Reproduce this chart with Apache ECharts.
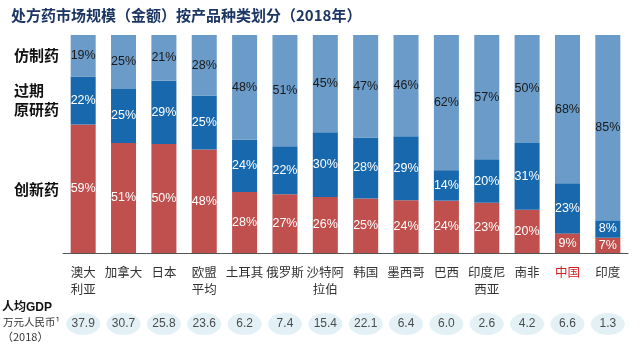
<!DOCTYPE html>
<html><head><meta charset="utf-8">
<script src="https://cdn.jsdelivr.net/npm/echarts@6/dist/echarts.min.js"></script>
<style>html,body{margin:0;padding:0;background:#fff}#c{width:640px;height:355px}</style>
</head><body><div id="c"></div>
<script>
const categories = ['澳大\n利亚','加拿大','日本','欧盟\n平均','土耳其','俄罗斯','沙特阿\n拉伯','韩国','墨西哥','巴西','印度尼\n西亚','南非','中国','印度'];
const innovative = [59,51,50,48,28,27,26,25,24,24,23,20,9,7];
const offPatent  = [22,25,29,25,24,22,30,28,29,14,20,31,23,8];
const generic    = [19,25,21,28,48,51,45,47,46,62,57,50,68,85];
const gdp = ['37.9','30.7','25.8','23.6','6.2','7.4','15.4','22.1','6.4','6.0','2.6','4.2','6.6','1.3'];
const seriesNames = ['创新药','过期原研药','仿制药'];

const totals = innovative.map((v,i)=>v+offPatent[i]+generic[i]);
const norm = arr => arr.map((v,i)=>({value: v/totals[i]*100, raw: v}));

const chart = echarts.init(document.getElementById('c'));
const font = 'Arial, "Liberation Sans", "Noto Sans CJK SC", sans-serif';
const cjk = '"Noto Sans CJK SC", sans-serif';
function seg(name, data, color, labelColor){
  return {
    name, type:'bar', stack:'s', data: norm(data), barCategoryGap:'38%',
    itemStyle:{color},
    label:{show:true, position:'inside', color:labelColor, fontSize:12.5, fontFamily:font,
      formatter: p => p.data.raw + '%'}
  };
}
chart.setOption({
  animation:false,
  title:{text:'处方药市场规模（金额）按产品种类划分（2018年）', left:6, top:3,
    textStyle:{fontSize:15, fontWeight:'bold', color:'#1c3664', fontFamily:cjk}},
  grid:[{left:63, right:12, top:35, bottom:102},{left:63, right:12, top:311, height:26}],
  xAxis:[{type:'category', data:categories, gridIndex:0,
    axisLine:{lineStyle:{color:'#555'}}, axisTick:{length:4, lineStyle:{color:'#555'}},
    axisLabel:{interval:0, margin:11, fontSize:12.5, lineHeight:17, fontFamily:cjk, color:'#333',
      formatter: v => v==='中国' ? '{red|'+v+'}' : v,
      rich:{red:{color:'#d42020', fontSize:12.5, fontFamily:cjk}}}},
    {type:'category', data:categories, gridIndex:1, show:false}],
  yAxis:[{type:'value', min:0, max:100, show:false, gridIndex:0},
    {type:'value', min:-1, max:1, show:false, gridIndex:1}],
  series:[
    seg(seriesNames[0], innovative, '#c0504d', '#fff'),
    seg(seriesNames[1], offPatent, '#1868ad', '#fff'),
    seg(seriesNames[2], generic, '#6b9bc8', '#1a1a1a'),
    {type:'scatter', xAxisIndex:1, yAxisIndex:1, symbol:'circle', symbolSize:[34,22],
      itemStyle:{color:'#dcedf5'},
      data: gdp.map((g,i)=>({value:[i,0], name:g})),
      label:{show:true, position:'inside', formatter:p=>p.name, color:'#222', fontSize:12, fontFamily:font}}
  ],
  graphic:[
    {type:'text', left:14, top:48, style:{text:'仿制药', font:'bold 15px '+cjk, fill:'#111'}},
    {type:'text', left:14, top:83, style:{text:'过期', font:'bold 15px '+cjk, fill:'#111'}},
    {type:'text', left:14, top:102, style:{text:'原研药', font:'bold 15px '+cjk, fill:'#111'}},
    {type:'text', left:14, top:182, style:{text:'创新药', font:'bold 15px '+cjk, fill:'#111'}},
    {type:'text', left:2, top:302, style:{text:'人均GDP', font:'bold 12px '+font, fill:'#111'}},
    {type:'text', left:3, top:317, style:{text:'万元人民币¹', font:'10.5px '+cjk, fill:'#333'}},
    {type:'text', left:2, top:331, style:{text:'（2018）', font:'11px '+cjk, fill:'#333'}}
  ]
});
</script></body></html>
